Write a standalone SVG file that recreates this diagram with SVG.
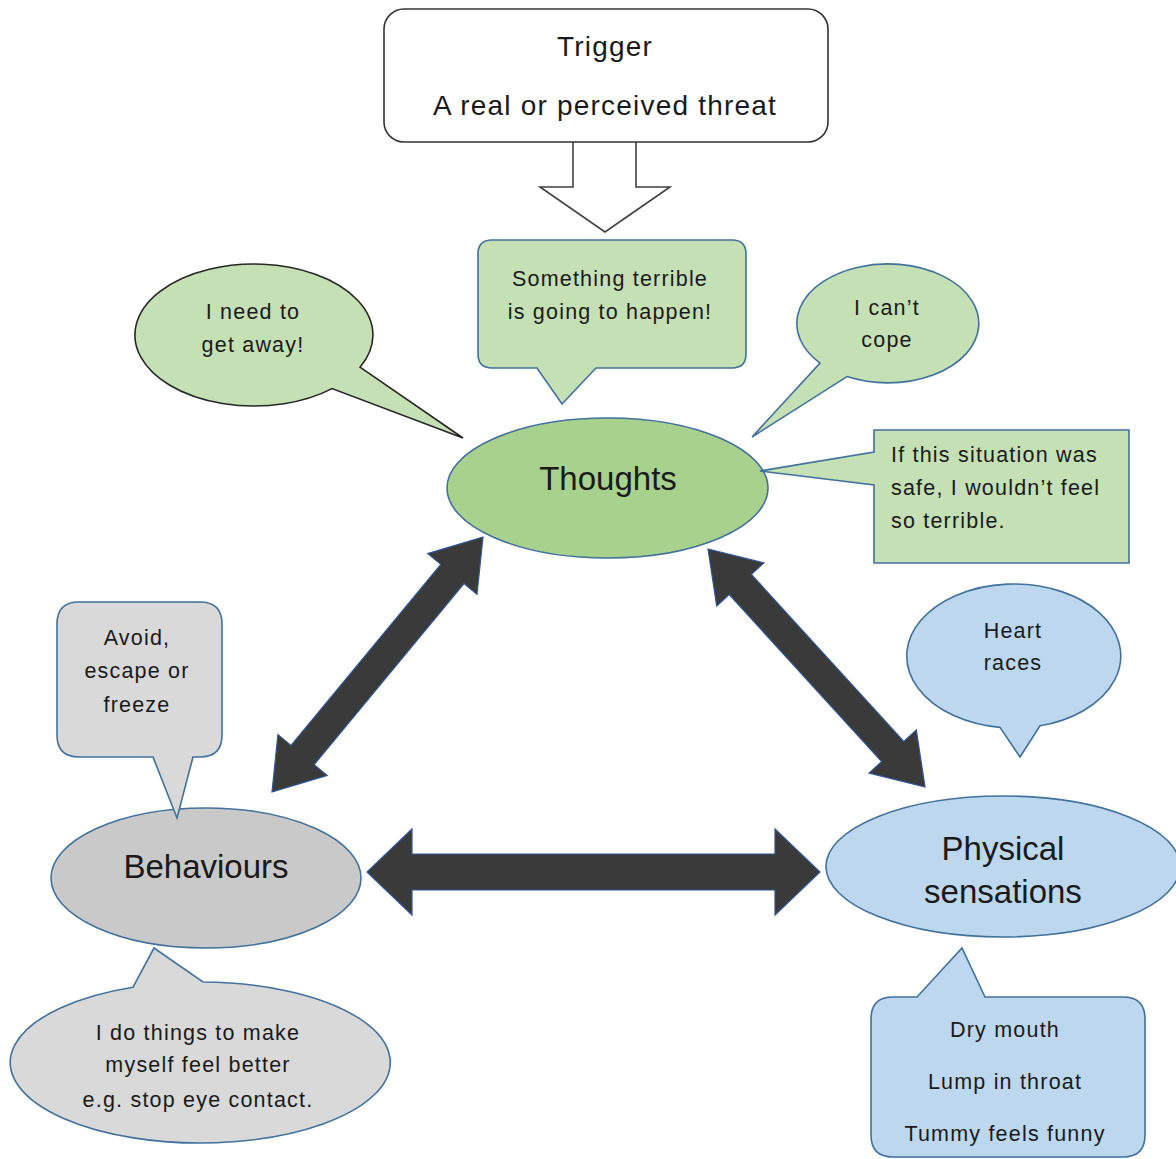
<svg xmlns="http://www.w3.org/2000/svg" width="1176" height="1159" viewBox="0 0 1176 1159">
<style>
text{font-family:"Liberation Sans",Arial,sans-serif;fill:#1a1a1a;text-anchor:middle}
.sm{font-size:21.5px;letter-spacing:1.2px}
.big{font-size:33px}
.trig{font-size:28px;letter-spacing:1.2px}
.bl{stroke:#41719c;stroke-width:1.6}
.g1{fill:#c5e0b4}
.g2{fill:#a9d18e}
.y1{fill:#d9d9d9}
.y2{fill:#c9c9c9}
.b1{fill:#bdd7ee}
.arr{fill:#3a3a3a;stroke:#2f5597;stroke-width:1.2}
</style>
<rect width="1176" height="1159" fill="#fff"/>
<g id="connectors">
<path id="trigger-arrow" d="M573 142 V187 H540 L605 232 L670 187 H636 V142" fill="#fff" stroke="#404040" stroke-width="1.6"/>
<polygon class="arr" points="272,792 327.2,775.4 314.2,764.6 464,583.6 477,594.4 483,537 427.7,553.6 440.8,564.4 291,745.4 277.9,734.6"/>
<polygon class="arr" points="708,549 716.7,606.1 729.2,594.6 881.6,761.6 869.1,773.1 925,787 916.3,729.9 903.8,741.4 751.4,574.4 763.9,562.9"/>
<polygon class="arr" points="367,872 412,915 412,890 775,890 775,915 820,872 775,829 775,854 412,854 412,829"/>
</g>
<g id="trigger">
<rect x="384" y="9" width="444" height="133" rx="20" fill="#fff" stroke="#333" stroke-width="1.6"/>
<text class="trig" x="605" y="56">Trigger</text>
<text class="trig" x="605" y="115">A real or perceived threat</text>
</g>
<g id="thoughts">
<ellipse cx="607.5" cy="488" rx="160.5" ry="70" class="g2 bl"/>
<text class="big" x="608" y="490">Thoughts</text>
</g>
<g id="behaviours">
<ellipse cx="206" cy="878" rx="155" ry="70" class="y2 bl"/>
<text class="big" x="206" y="878">Behaviours</text>
</g>
<g id="physical">
<ellipse cx="1003" cy="866.5" rx="177" ry="70.5" class="b1 bl"/>
<text class="big" x="1003" y="860">Physical</text>
<text class="big" x="1003" y="903">sensations</text>
</g>
<g id="callout-terrible">
<path class="g1 bl" d="M492 240 H732 Q746 240 746 254 V354 Q746 368 732 368 H596 L562 404 L537 368 H492 Q478 368 478 354 V254 Q478 240 492 240 Z"/>
<text class="sm" x="610" y="286">Something terrible</text>
<text class="sm" x="610" y="319">is going to happen!</text>
</g>
<g id="callout-getaway">
<path class="g1" stroke="#262626" stroke-width="1.6" d="M360 367.2 L463 438 L332 388.6 A119 71 0 1 1 360 367.2 Z"/>
<text class="sm" x="253" y="319">I need to</text>
<text class="sm" x="253" y="352">get away!</text>
</g>
<g id="callout-cope">
<path class="g1 bl" d="M847 376.6 L752 437 L820 363.1 A91 59.5 0 1 1 847 376.6 Z"/>
<text class="sm" x="887" y="315">I can’t</text>
<text class="sm" x="887" y="347">cope</text>
</g>
<g id="callout-safe">
<path class="g1 bl" d="M874 430 H1129 V563 H874 V485 L760 471 L874 452 Z"/>
<text class="sm" x="891" y="462" style="text-anchor:start">If this situation was</text>
<text class="sm" x="891" y="495" style="text-anchor:start">safe, I wouldn’t feel</text>
<text class="sm" x="891" y="528" style="text-anchor:start">so terrible.</text>
</g>
<g id="callout-avoid">
<path class="y1 bl" d="M79 602 H200 Q222 602 222 624 V735 Q222 757 200 757 H193 L177 818 L153 757 H79 Q57 757 57 735 V624 Q57 602 79 602 Z"/>
<text class="sm" x="137" y="645">Avoid,</text>
<text class="sm" x="137" y="678">escape or</text>
<text class="sm" x="137" y="712">freeze</text>
</g>
<g id="callout-better">
<path class="y1 bl" d="M133 987.2 L154 948 L203 982 A190 80.5 0 1 1 133 987.2 Z"/>
<text class="sm" x="198" y="1040">I do things to make</text>
<text class="sm" x="198" y="1072">myself feel better</text>
<text class="sm" x="198" y="1107">e.g. stop eye contact.</text>
</g>
<g id="callout-heart">
<path class="b1 bl" d="M1000 727.4 L1020 757 L1040 725.8 A107 72 0 1 0 1000 727.4 Z"/>
<text class="sm" x="1013" y="638">Heart</text>
<text class="sm" x="1013" y="670">races</text>
</g>
<g id="callout-body">
<path class="b1 bl" d="M893 997 H917 L962 948 L985 997 H1123 Q1145 997 1145 1019 V1135 Q1145 1157 1123 1157 H893 Q871 1157 871 1135 V1019 Q871 997 893 997 Z"/>
<text class="sm" x="1005" y="1037">Dry mouth</text>
<text class="sm" x="1005" y="1089">Lump in throat</text>
<text class="sm" x="1005" y="1141">Tummy feels funny</text>
</g>
</svg>
